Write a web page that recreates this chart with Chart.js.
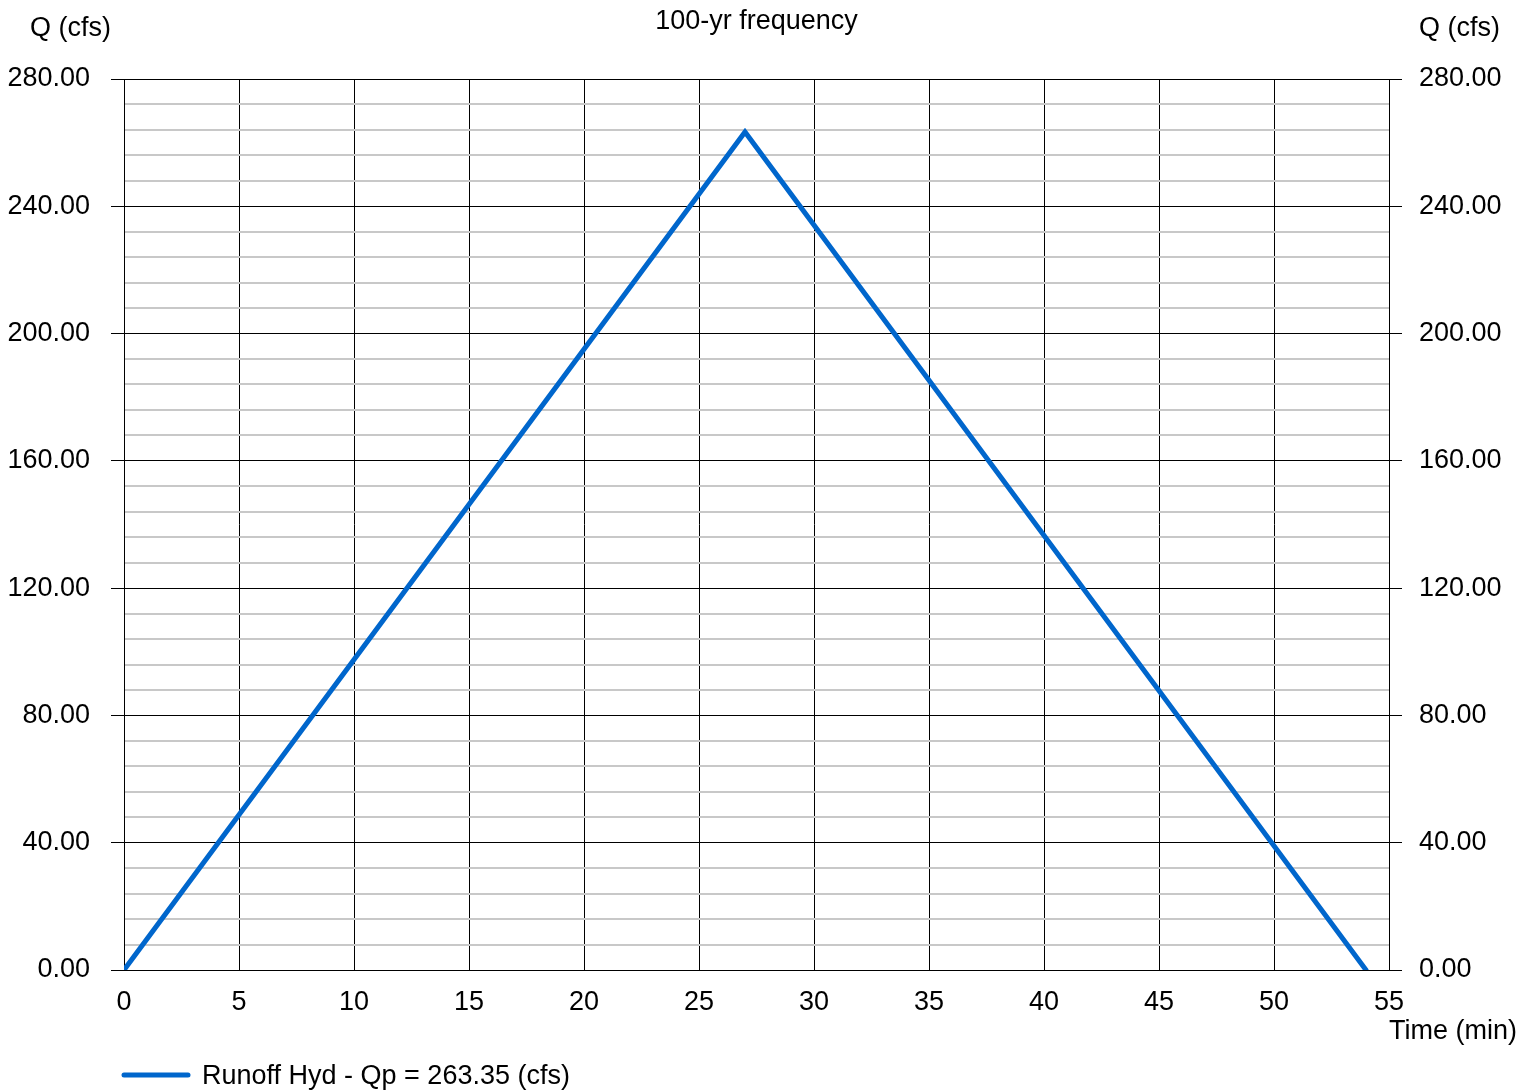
<!DOCTYPE html>
<html>
<head>
<meta charset="utf-8">
<script src="https://cdn.jsdelivr.net/npm/chart.js@4/dist/chart.umd.min.js"></script>
<style>
  html, body { margin: 0; padding: 0; background: #fff; }
  #wrap { width: 1535px; height: 1091px; }
</style>
</head>
<body>
<div id="wrap"><canvas id="grafica"></canvas></div>
<script>
// data
const tiempos = [0, 27, 54];
const caudales = [0, 263.35, 0];
const serieNombre = "Runoff Hyd - Qp = 263.35 (cfs)";
const tituloTexto = "100-yr frequency";
const ejeYTexto = "Q (cfs)";
const ejeXTexto = "Time (min)";

const FUENTE = "'Liberation Sans', Arial, sans-serif";
const AZUL = "#0066cc";

const esMayor = (v) => Math.abs(v % 40) < 1e-6;

const textos = {
  id: "textos",
  afterDraw(chart) {
    const ctx = chart.ctx;
    const a = chart.chartArea;
    ctx.save();
    ctx.fillStyle = "#000";
    ctx.font = "27px " + FUENTE;
    ctx.textBaseline = "middle";
    ctx.textAlign = "center";
    ctx.fillText(tituloTexto, (a.left + a.right) / 2, 22);
    ctx.textAlign = "left";
    ctx.fillText(ejeYTexto, 30, 29);
    ctx.fillText(ejeYTexto, 1419, 29);
    ctx.fillText(ejeXTexto, a.right, 1032);
    // legend
    ctx.strokeStyle = AZUL;
    ctx.lineWidth = 5;
    ctx.lineCap = "round";
    ctx.beginPath();
    ctx.moveTo(124, 1075);
    ctx.lineTo(188, 1075);
    ctx.stroke();
    ctx.fillText(serieNombre, 202, 1077);
    ctx.restore();
  }
};

const ctx = document.getElementById("grafica").getContext("2d");
new Chart(ctx, {
  type: "line",
  data: {
    datasets: [{
      label: serieNombre,
      data: tiempos.map((t, i) => ({ x: t, y: caudales[i] })),
      borderColor: AZUL,
      borderWidth: 5,
      pointRadius: 0,
      tension: 0,
      borderCapStyle: "round"
    }]
  },
  options: {
    responsive: true,
    maintainAspectRatio: false,
    animation: false,
    layout: { padding: { top: 79, left: 0, right: 0, bottom: 0 } },
    plugins: {
      legend: { display: false },
      tooltip: { enabled: false }
    },
    scales: {
      x: {
        type: "linear",
        min: 0,
        max: 55,
        ticks: {
          stepSize: 5,
          padding: 16,
          color: "#000",
          font: { family: FUENTE, size: 27 }
        },
        grid: { color: "#000", lineWidth: 1, drawTicks: false },
        border: { color: "#000", width: 1 },
        afterFit(s) { s.height = 121; }
      },
      y: {
        position: "left",
        min: 0,
        max: 280,
        ticks: {
          stepSize: 8,
          autoSkip: false,
          padding: 21,
          color: "#000",
          font: { family: FUENTE, size: 27 },
          callback: (v) => esMayor(v) ? v.toFixed(2) : ""
        },
        grid: {
          color: (c) => esMayor(c.tick.value) ? "#000" : "#c8c8c8",
          lineWidth: (c) => esMayor(c.tick.value) ? 1 : 2,
          tickColor: (c) => esMayor(c.tick.value) ? "#000" : "rgba(0,0,0,0)",
          tickLength: 13
        },
        border: { color: "#000", width: 1 },
        afterFit(s) { s.width = 124; }
      },
      y2: {
        position: "right",
        min: 0,
        max: 280,
        ticks: {
          stepSize: 8,
          autoSkip: false,
          padding: 17,
          color: "#000",
          font: { family: FUENTE, size: 27 },
          callback: (v) => esMayor(v) ? v.toFixed(2) : ""
        },
        grid: {
          drawOnChartArea: false,
          tickColor: (c) => esMayor(c.tick.value) ? "#000" : "rgba(0,0,0,0)",
          tickLength: 13
        },
        border: { color: "#000", width: 1 },
        afterFit(s) { s.width = 146; }
      }
    }
  },
  plugins: [textos]
});
</script>
</body>
</html>
